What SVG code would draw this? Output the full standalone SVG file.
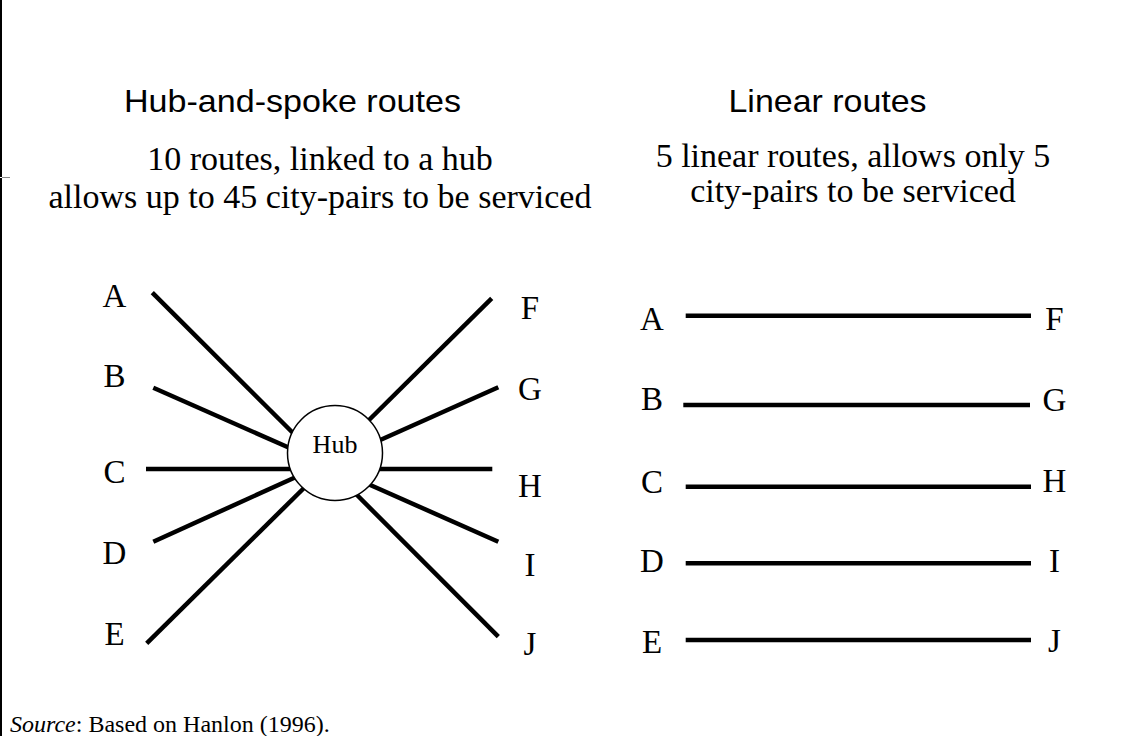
<svg xmlns="http://www.w3.org/2000/svg" width="1127" height="736" viewBox="0 0 1127 736">
<style>
.lbl{font-family:"Liberation Serif","Times New Roman",serif;font-size:33px;fill:#000;text-anchor:middle}
.sub{font-family:"Liberation Serif","Times New Roman",serif;font-size:34px;fill:#000;text-anchor:middle}
.head{font-family:"Liberation Sans",Arial,sans-serif;font-size:32px;fill:#000;text-anchor:middle}
.route{stroke:#000;stroke-width:4.5;fill:none}
</style>
<rect width="1127" height="736" fill="#fff"/>
<g id="frame">
<line x1="1" y1="0" x2="1" y2="177" stroke="#000" stroke-width="2"/>
<line x1="1" y1="178" x2="1" y2="736" stroke="#000" stroke-width="2"/>
<line x1="2" y1="177.5" x2="10" y2="177.5" stroke="#888" stroke-width="1"/>
</g>
<g id="titles">
<text class="head" x="292.5" y="112" textLength="337" lengthAdjust="spacingAndGlyphs">Hub-and-spoke routes</text>
<text class="head" x="827.5" y="112" textLength="198" lengthAdjust="spacingAndGlyphs">Linear routes</text>
<text class="sub" x="320" y="170">10 routes, linked to a hub</text>
<text class="sub" x="320" y="208">allows up to 45 city-pairs to be serviced</text>
<text class="sub" x="853" y="167">5 linear routes, allows only 5</text>
<text class="sub" x="853" y="202">city-pairs to be serviced</text>
</g>
<g id="connectors">
<line class="route" x1="152.3" y1="292.7" x2="295" y2="435"/>
<line class="route" x1="153.3" y1="387.7" x2="292" y2="449"/>
<line class="route" x1="146" y1="469" x2="295" y2="469"/>
<line class="route" x1="153.3" y1="541.7" x2="296" y2="477"/>
<line class="route" x1="146.7" y1="643.3" x2="305" y2="487"/>
<line class="route" x1="491.7" y1="298.3" x2="366" y2="423"/>
<line class="route" x1="498.3" y1="387.3" x2="378" y2="441"/>
<line class="route" x1="492.3" y1="469" x2="375" y2="469"/>
<line class="route" x1="498.3" y1="541.7" x2="368" y2="484"/>
<line class="route" x1="498.3" y1="636.7" x2="355" y2="493"/>
<line class="route" x1="685.7" y1="315.7" x2="1031" y2="315.7"/>
<line class="route" x1="683.3" y1="405" x2="1030" y2="405"/>
<line class="route" x1="685.7" y1="486.7" x2="1031" y2="486.7"/>
<line class="route" x1="685.7" y1="563.3" x2="1031" y2="563.3"/>
<line class="route" x1="685.7" y1="640" x2="1031" y2="640"/>
</g>
<g id="hub">
<circle cx="335" cy="453" r="47.5" fill="#fff" stroke="#000" stroke-width="1.5"/>
<text x="335" y="453" font-family="'Liberation Serif','Times New Roman',serif" font-size="26" text-anchor="middle">Hub</text>
</g>
<g id="hub-cities">
<g id="hs-A"><text class="lbl" x="114.5" y="307">A</text></g>
<g id="hs-B"><text class="lbl" x="114.5" y="387">B</text></g>
<g id="hs-C"><text class="lbl" x="114.5" y="483">C</text></g>
<g id="hs-D"><text class="lbl" x="114.5" y="564">D</text></g>
<g id="hs-E"><text class="lbl" x="114.5" y="645">E</text></g>
<g id="hs-F"><text class="lbl" x="530" y="319">F</text></g>
<g id="hs-G"><text class="lbl" x="530" y="400">G</text></g>
<g id="hs-H"><text class="lbl" x="530" y="497">H</text></g>
<g id="hs-I"><text class="lbl" x="530" y="576">I</text></g>
<g id="hs-J"><text class="lbl" x="530" y="655">J</text></g>
</g>
<g id="linear-cities">
<g id="ln-A"><text class="lbl" x="652" y="330">A</text></g>
<g id="ln-B"><text class="lbl" x="652" y="410">B</text></g>
<g id="ln-C"><text class="lbl" x="652" y="493">C</text></g>
<g id="ln-D"><text class="lbl" x="652" y="572">D</text></g>
<g id="ln-E"><text class="lbl" x="652" y="653">E</text></g>
<g id="ln-F"><text class="lbl" x="1054.5" y="330">F</text></g>
<g id="ln-G"><text class="lbl" x="1054.5" y="411">G</text></g>
<g id="ln-H"><text class="lbl" x="1054.5" y="492">H</text></g>
<g id="ln-I"><text class="lbl" x="1054.5" y="572">I</text></g>
<g id="ln-J"><text class="lbl" x="1054.5" y="652">J</text></g>
</g>
<g id="source">
<text x="10" y="732" font-family="'Liberation Serif','Times New Roman',serif" font-size="24"><tspan font-style="italic">Source</tspan>: Based on Hanlon (1996).</text>
</g>
</svg>
